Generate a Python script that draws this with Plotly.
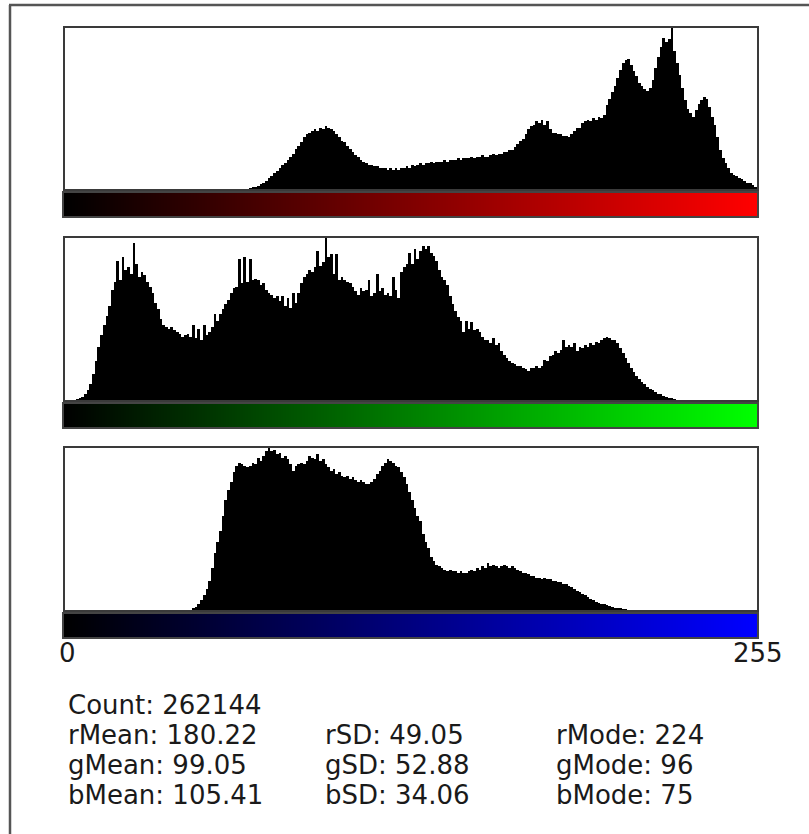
import plotly.graph_objects as go

W, H = 809, 834

bins = list(range(256))

red_counts = [0]*68 + [
    0.5, 1, 1.5, 2, 3, 4, 5, 7, 8, 10, 11, 13, 15, 16, 18, 20, 22, 25, 27, 29, 32, 34,  # 68-89
    35, 36, 37, 36, 38, 37, 39, 38, 37, 36, 34, 32, 30, 29, 27, 25, 23, 21, 20, 18,      # 90-109
    17, 16, 15, 15, 14, 14, 13, 13, 13, 12, 13, 12, 13, 12, 13, 13, 14, 13, 15, 14,      # 110-129
    15, 16, 15, 16, 16, 17, 16, 17, 17, 17, 18, 17, 18, 18, 18, 19, 18, 19, 19, 19,      # 130-149
    20, 19, 20, 20, 21, 20, 20, 21, 22, 21, 22, 22, 23, 23, 24, 24, 26, 28, 30, 31,      # 150-169
    34, 37, 39, 40, 42, 41, 43, 40, 42, 37, 35, 35, 34, 34, 33, 33, 32, 34, 36, 38,      # 170-189
    38, 41, 42, 43, 42, 44, 43, 45, 44, 46, 52, 56, 60, 64, 69, 74, 78, 80, 81, 77,      # 190-209
    73, 70, 66, 64, 62, 61, 63, 68, 75, 82, 88, 94, 91, 93, 100, 86, 78, 71, 63, 55,     # 210-229
    50, 47, 45, 49, 53, 55, 57, 56, 51, 45, 40, 32, 24, 19, 16, 13, 10, 9, 8, 7,        # 230-249
    6, 5, 4, 3.5, 2.5, 1.5                                                              # 250-255
]

green_counts = [0]*4 + [
    0.5, 1, 2, 3.5, 6, 10, 16, 24, 33, 40, 46, 52, 58, 68, 73, 86,                      # 4-19
    74, 88, 80, 82, 78, 97, 84, 76, 79, 77, 73, 70, 66, 60, 56, 50, 46, 45, 44, 45,      # 20-39
    43, 42, 41, 39, 40, 41, 39, 46, 38, 44, 37, 46, 40, 42, 45, 53, 49, 53, 56, 59,      # 40-59
    62, 66, 69, 70, 87, 72, 88, 73, 87, 74, 75, 74, 71, 72, 68, 66, 65, 63, 64, 61,      # 60-79
    64, 58, 63, 57, 66, 60, 66, 72, 76, 78, 80, 79, 82, 92, 83, 85, 100, 88, 90, 78,     # 80-99
    90, 74, 76, 74, 73, 72, 70, 67, 65, 69, 67, 68, 74, 64, 66, 78, 67, 69, 65, 66,      # 100-119
    64, 76, 68, 63, 79, 82, 84, 91, 84, 93, 87, 92, 95, 93, 95, 91, 89, 86, 80, 76,      # 120-139
    74, 71, 64, 59, 55, 51, 49, 42, 49, 44, 48, 43, 44, 42, 39, 37, 37, 35, 38, 34,      # 140-159
    35, 30, 28, 26, 24, 23, 22, 21, 21, 20, 19, 18, 20, 20, 21, 20, 21, 25, 24, 27,      # 160-179
    28, 30, 29, 31, 37, 33, 34, 33, 35, 30, 33, 32, 34, 33, 35, 34, 36, 35, 37, 38,      # 180-199
    39, 38, 37, 37, 35, 32, 29, 26, 23, 20, 17, 15, 13, 11, 10, 8, 7, 6, 5, 4,          # 200-219
    3.5, 2.5, 2, 1.5, 1, 0.5                                                            # 220-225
] + [0]*30

blue_counts = [0]*47 + [
    1, 2, 3.5, 6, 9, 13, 18, 26, 35, 42, 49, 58, 68,                                    # 47-59
    74, 79, 85, 89, 91, 90, 89, 88, 89, 91, 90, 94, 92, 95, 98, 100, 98, 99, 96, 97,     # 60-79
    94, 95, 93, 90, 86, 89, 90, 91, 90, 92, 95, 94, 93, 96, 92, 93, 90, 88, 86, 87,      # 80-99
    84, 85, 83, 82, 83, 81, 82, 80, 79, 80, 79, 78, 78, 79, 81, 84, 86, 89, 91, 93,      # 100-119
    92, 91, 89, 88, 85, 82, 78, 73, 68, 63, 58, 55, 47, 42, 38, 33, 30, 28, 27, 26,      # 120-139
    25, 24, 25, 24, 24, 23, 24, 23, 23, 24, 25, 24, 26, 25, 27, 26, 29, 27, 28, 27,      # 140-159
    26, 27, 28, 27, 26, 27, 26, 25, 24, 23, 23, 22, 21, 21, 20, 20, 19, 20, 19, 19,      # 160-179
    18, 18, 17, 17, 16, 16, 15, 14, 13, 12, 11, 10, 9, 8, 7, 6, 5, 4.5, 4, 3.5,         # 180-199
    3, 2.5, 2, 1.5, 1, 0.8, 0.5, 0.3                                                    # 200-207
] + [0]*48

axis_ticks = ["0", "255"]

stat_rows = [
    ["Count: 262144", "", ""],
    ["rMean: 180.22", "rSD: 49.05", "rMode: 224"],
    ["gMean: 99.05", "gSD: 52.88", "gMode: 96"],
    ["bMean: 105.41", "bSD: 34.06", "bMode: 75"],
]

channels = [
    ("red", red_counts, "rgb(255,0,0)", (28, 189), (193, 216)),
    ("green", green_counts, "rgb(0,255,0)", (238, 400), (404, 427)),
    ("blue", blue_counts, "rgb(0,0,255)", (448, 610), (614, 637)),
]

def px_x(p):
    return p / W

def px_y(p):
    return 1 - p / H

fig = go.Figure()
layout = dict(
    width=W, height=H,
    margin=dict(l=0, r=0, t=0, b=0),
    paper_bgcolor="white", plot_bgcolor="white",
    showlegend=False, bargap=0,
)

xdom = [px_x(65), px_x(757)]
ax = 1
for name, counts, col, (pt, pb), (gt, gb) in channels:
    # histogram
    xa, ya = f"x{ax}" if ax > 1 else "x", f"y{ax}" if ax > 1 else "y"
    fig.add_trace(go.Bar(x=bins, y=counts, width=1, marker=dict(color="black", line=dict(width=0)),
                         xaxis=xa, yaxis=ya, hoverinfo="skip"))
    kx = "xaxis" if ax == 1 else f"xaxis{ax}"
    ky = "yaxis" if ax == 1 else f"yaxis{ax}"
    layout[kx] = dict(domain=xdom, range=[-0.5, 255.5], showgrid=False, zeroline=False,
                      showticklabels=False, ticks="", showline=True, mirror=True,
                      linecolor="#3a3a3a", linewidth=2, anchor=ya)
    layout[ky] = dict(domain=[px_y(pb), px_y(pt)], range=[0, max(counts)], showgrid=False,
                      zeroline=False, showticklabels=False, ticks="", showline=True, mirror=True,
                      linecolor="#3a3a3a", linewidth=2, anchor=xa)
    ax += 1
    # gradient bar
    xa, ya = f"x{ax}", f"y{ax}"
    fig.add_trace(go.Heatmap(x=bins, y=[0], z=[bins], zmin=0, zmax=255,
                             colorscale=[[0, "black"], [1, col]], showscale=False,
                             xaxis=xa, yaxis=ya, hoverinfo="skip"))
    layout[f"xaxis{ax}"] = dict(domain=[px_x(64), px_x(757)], range=[-0.5, 255.5], showgrid=False,
                                zeroline=False, showticklabels=False, ticks="", showline=True,
                                mirror=True, linecolor="#444", linewidth=1.5, anchor=ya)
    layout[f"yaxis{ax}"] = dict(domain=[px_y(gb), px_y(gt)], range=[-0.5, 0.5], showgrid=False,
                                zeroline=False, showticklabels=False, ticks="", showline=True,
                                mirror=True, linecolor="#444", linewidth=1.5, anchor=xa)
    ax += 1

FONT = dict(family="DejaVu Sans", size=26, color="#1a1a1a")
annotations = [
    dict(text=axis_ticks[0], x=px_x(67), y=px_y(653), xref="paper", yref="paper",
         xanchor="center", yanchor="middle", showarrow=False, font=dict(FONT, size=26)),
    dict(text=axis_ticks[1], x=px_x(785), y=px_y(653), xref="paper", yref="paper",
         xanchor="right", yanchor="middle", showarrow=False, font=dict(FONT, size=26)),
]
col_x = [66, 323, 554]
row_y = [705, 735, 765, 795]
for r, row in enumerate(stat_rows):
    for c, txt in enumerate(row):
        if txt:
            annotations.append(dict(text=txt, x=px_x(col_x[c]), y=px_y(row_y[r]), xref="paper",
                                    yref="paper", xanchor="left", yanchor="middle",
                                    showarrow=False, font=FONT))
layout["annotations"] = annotations

layout["shapes"] = [
    dict(type="line", xref="paper", yref="paper", x0=px_x(9), x1=1.0, y0=px_y(5), y1=px_y(5),
         line=dict(color="#555", width=2.5)),
    dict(type="line", xref="paper", yref="paper", x0=px_x(10), x1=px_x(10), y0=px_y(5), y1=0,
         line=dict(color="#555", width=2.5)),
]

fig.update_layout(**layout)
fig.write_html(
    "out.html",
    config={"displayModeBar": False},
    post_script="document.body.style.margin='0';document.body.style.overflow='hidden';",
)
